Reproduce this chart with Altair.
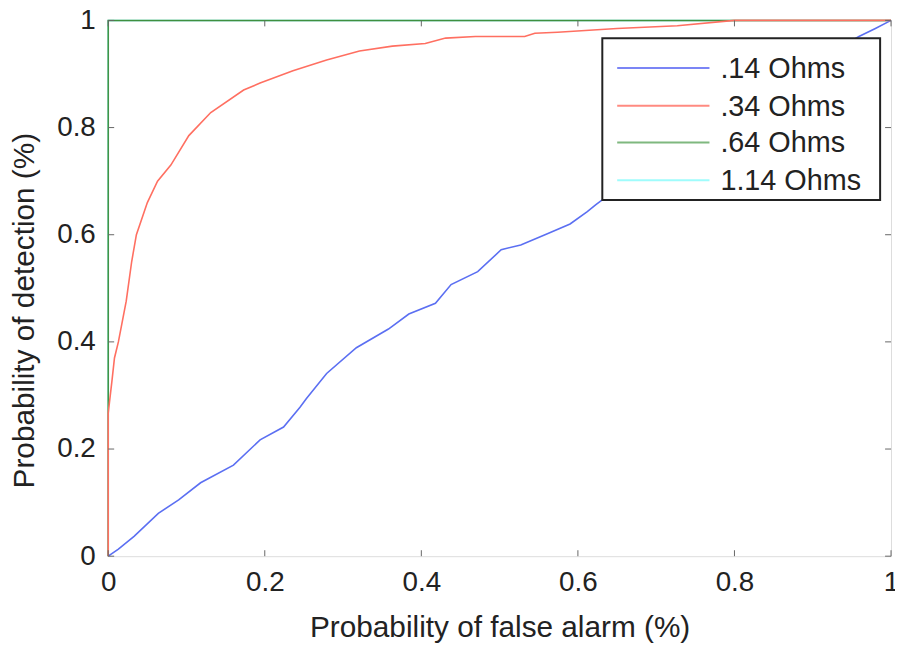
import altair as alt
import pandas as pd

# ---- data ----
series_names = [".14 Ohms", ".34 Ohms", ".64 Ohms", "1.14 Ohms"]
series_colors = ["#5b6ff2", "#ff6f61", "#3f8f3f", "#80ffff"]

blue_x = [0, 0.013, 0.033, 0.064, 0.09, 0.118, 0.16, 0.194, 0.224, 0.245, 0.253, 0.279,
          0.317, 0.358, 0.384, 0.418, 0.438, 0.472, 0.502, 0.527, 0.561, 0.590, 0.612,
          0.623, 0.70, 0.80, 0.90, 0.959, 0.98, 1.0]
blue_y = [0, 0.013, 0.037, 0.08, 0.105, 0.137, 0.17, 0.217, 0.241, 0.278, 0.294, 0.341,
          0.389, 0.424, 0.452, 0.472, 0.507, 0.531, 0.572, 0.581, 0.602, 0.620, 0.643,
          0.656, 0.74, 0.84, 0.92, 0.97, 0.985, 1.0]

red_x = [0, 0, 0.005, 0.008, 0.013, 0.023, 0.03, 0.036, 0.05, 0.063, 0.08, 0.103, 0.131,
         0.173, 0.194, 0.236, 0.279, 0.321, 0.363, 0.405, 0.431, 0.469, 0.532, 0.545,
         0.574, 0.65, 0.727, 0.8, 1.0]
red_y = [0, 0.267, 0.33, 0.37, 0.40, 0.476, 0.55, 0.60, 0.66, 0.70, 0.73, 0.785, 0.828,
         0.87, 0.883, 0.906, 0.926, 0.943, 0.952, 0.957, 0.967, 0.970, 0.970, 0.976,
         0.978, 0.985, 0.99, 1.0, 1.0]

green_x = [0, 0, 1]
green_y = [0, 1, 1]
cyan_x = [0, 0, 1]
cyan_y = [0, 1, 1]

tick_values = [0, 0.2, 0.4, 0.6, 0.8, 1.0]

x_title = "Probability of false alarm (%)"
y_title = "Probability of detection (%)"

# ---- build table ----
rows = []
for name, xs, ys in [(series_names[0], blue_x, blue_y), (series_names[1], red_x, red_y),
                     (series_names[2], green_x, green_y), (series_names[3], cyan_x, cyan_y)]:
    for i, (xv, yv) in enumerate(zip(xs, ys)):
        rows.append({"series": name, "fa": xv, "det": yv, "idx": i})
df = pd.DataFrame(rows)
ticks_df = pd.DataFrame({"v": tick_values})

W, H = 789, 540
FONT = "Liberation Sans"
LBL = "datum.value == 0 ? '0' : (datum.value == 1 ? '1' : format(datum.value, '.1f'))"

xscale = alt.Scale(domain=[0, 1], nice=False, zero=False)
yscale = alt.Scale(domain=[0, 1], nice=False, zero=False)
cscale = alt.Scale(domain=series_names, range=series_colors)

x_axis = alt.Axis(values=tick_values, labelExpr=LBL,
                  grid=False, domain=False, ticks=False, labelFontSize=28, labelFont=FONT,
                  labelColor="#222", labelPadding=13, title=x_title, titleFont=FONT,
                  titleFontSize=30, titleFontWeight="normal", titleColor="#222",
                  titleY=81, titleBaseline="alphabetic", labelFlush=False)
y_axis = alt.Axis(values=tick_values, labelExpr=LBL,
                  grid=False, domain=False, ticks=False, labelFontSize=28, labelFont=FONT,
                  labelColor="#222", labelPadding=13, title=y_title, titleFont=FONT,
                  titleFontSize=30, titleFontWeight="normal", titleColor="#222",
                  titleX=-84, titleY=292, titleAngle=-90, titleBaseline="middle", titleAlign="center",
                  labelFlush=False)

def series_layer(name, width):
    return alt.Chart(df).transform_filter(alt.datum.series == name).mark_line(
        strokeWidth=width, clip=False).encode(
        x=alt.X("fa:Q", scale=xscale, axis=x_axis),
        y=alt.Y("det:Q", scale=yscale, axis=y_axis),
        color=alt.Color("series:N", scale=cscale, legend=None),
        order=alt.Order("idx:Q"),
    )

layers = [series_layer(series_names[3], 1.5), series_layer(series_names[2], 1.5),
          series_layer(series_names[0], 1.6), series_layer(series_names[1], 1.6)]

tick_color = "#666"
xt_bottom = alt.Chart(ticks_df).mark_rule(color=tick_color, strokeWidth=1).encode(
    x=alt.X("v:Q", scale=xscale), y=alt.value(H), y2=alt.value(H - 6))
xt_top = alt.Chart(ticks_df).mark_rule(color=tick_color, strokeWidth=1).encode(
    x=alt.X("v:Q", scale=xscale), y=alt.value(0), y2=alt.value(6))
yt_left = alt.Chart(ticks_df).mark_rule(color=tick_color, strokeWidth=1).encode(
    y=alt.Y("v:Q", scale=yscale), x=alt.value(0), x2=alt.value(6))
yt_right = alt.Chart(ticks_df).mark_rule(color=tick_color, strokeWidth=1).encode(
    y=alt.Y("v:Q", scale=yscale), x=alt.value(W), x2=alt.value(W - 6))

# ---- manual MATLAB-style legend ----
one = alt.Data(values=[{"k": 1}])
LX0, LX1, LY0, LY1 = 498, 778, 18, 181
legend_box = alt.Chart(one).mark_rect(fill="white", stroke="#222", strokeWidth=2).encode(
    x=alt.value(LX0), x2=alt.value(LX1), y=alt.value(LY0), y2=alt.value(LY1))
legend_layers = [legend_box]
row_y = [48, 86, 123, 161]
legend_line_colors = ["#7b85f5", "#ff8a80", "#7fb87f", "#9ffcfc"]
for i, name in enumerate(series_names):
    legend_layers.append(alt.Chart(one).mark_rule(color=legend_line_colors[i], strokeWidth=2).encode(
        x=alt.value(513), x2=alt.value(606), y=alt.value(row_y[i])))
    legend_layers.append(alt.Chart(one).mark_text(
        align="left", baseline="middle", font=FONT, fontSize=29, color="#222").encode(
        x=alt.value(617), y=alt.value(row_y[i] + 1), text=alt.value(name)))

chart = alt.layer(*layers, xt_bottom, xt_top, yt_left, yt_right, *legend_layers).properties(
    width=W, height=H,
    padding={"left": 101, "top": 10, "right": 4, "bottom": 87},
    autosize="none",
).configure_view(stroke="#222", strokeWidth=2).configure(background="white")

chart.save("out.html", embed_options={"renderer": "svg", "actions": False})
